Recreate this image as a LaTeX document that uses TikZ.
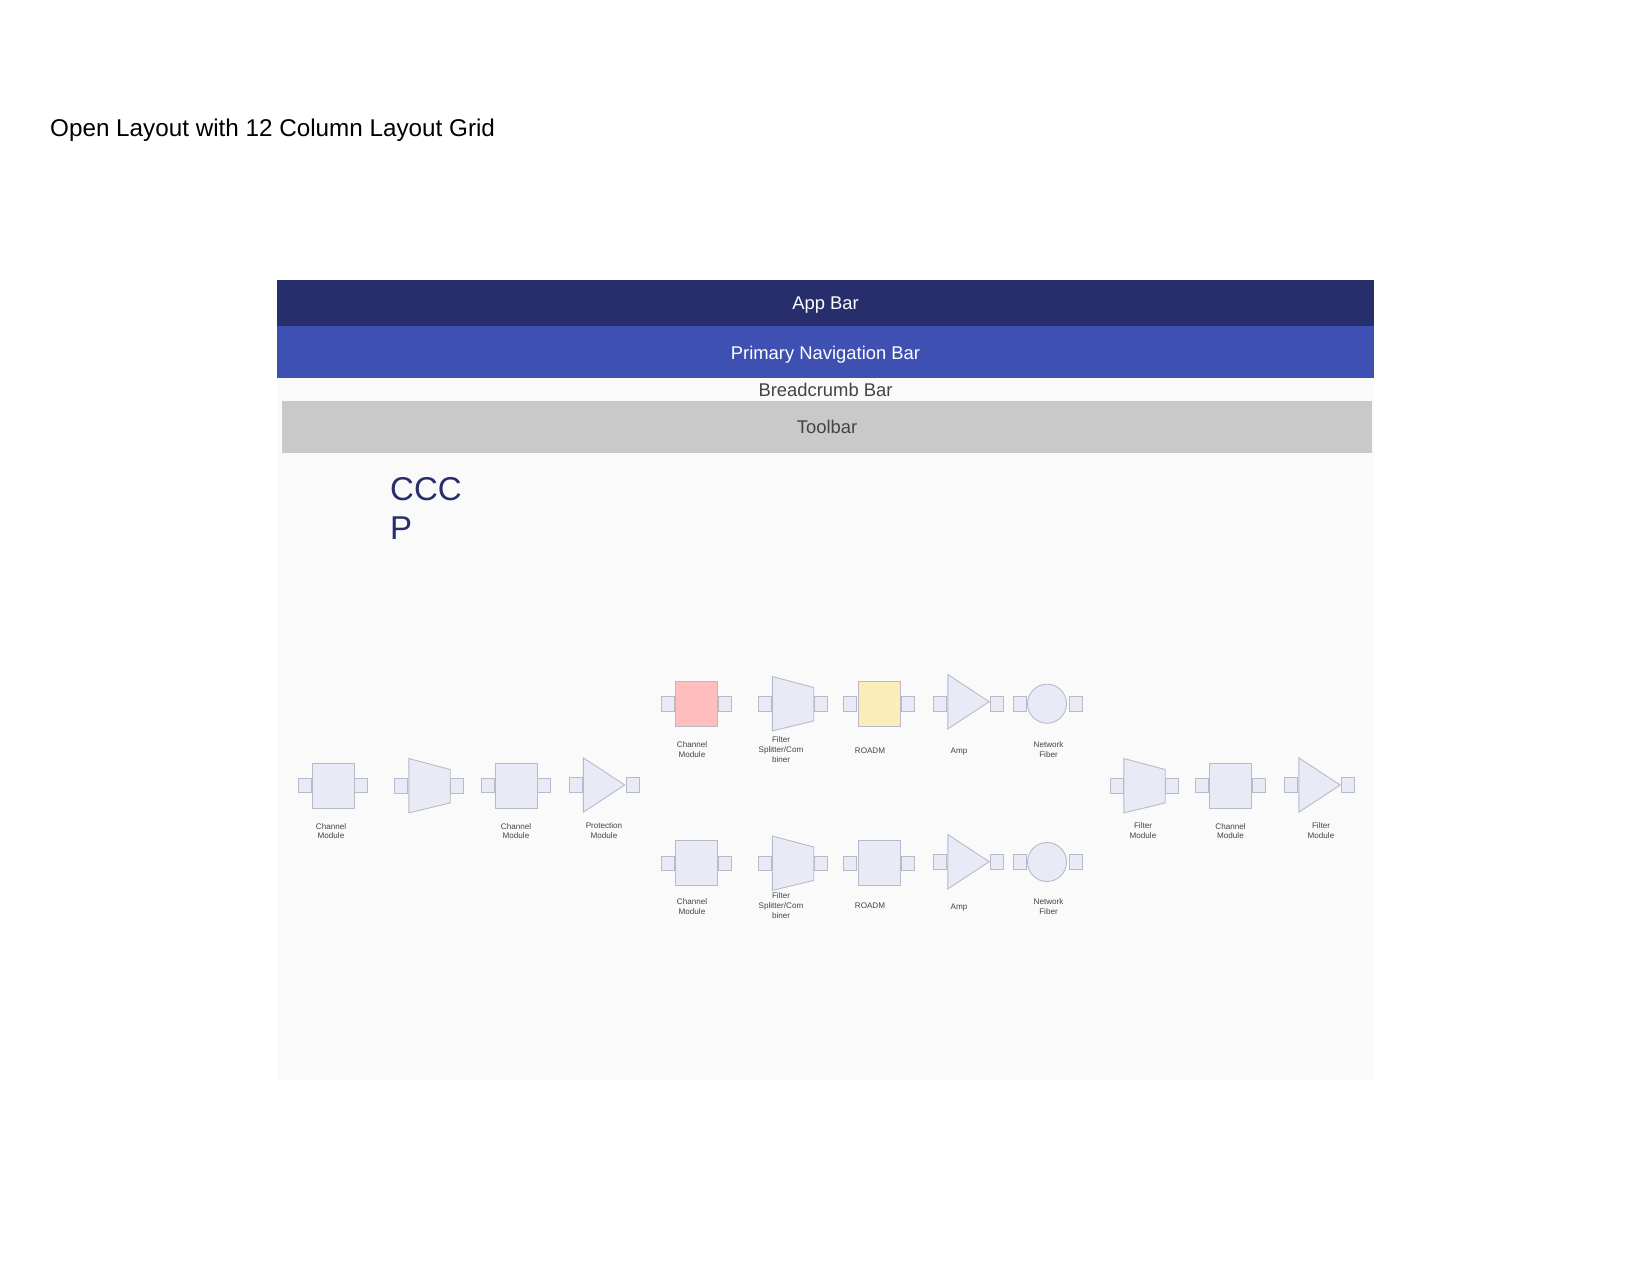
\documentclass[tikz,border=0pt]{standalone}
\usepackage{fontspec}
\setmainfont{Liberation Sans}
\usetikzlibrary{positioning}
\definecolor{appblue}{HTML}{262F6C}
\definecolor{navblue}{HTML}{3F50B3}
\definecolor{toolgrey}{HTML}{C9C9C9}
\definecolor{panelgrey}{HTML}{FAFAFA}
\definecolor{modfill}{HTML}{E8EAF6}
\definecolor{modline}{HTML}{B8BAC8}
\definecolor{alarmpink}{HTML}{FFBDBD}
\definecolor{warnyellow}{HTML}{FBEDB8}
\definecolor{labelgrey}{HTML}{444444}
\tikzset{
  bar/.style={inner sep=0pt, minimum width=1097pt, font=\fontsize{18.4}{22}\selectfont},
  modshape/.style={draw=modline, fill=modfill, line width=0.9pt},
  modbox/.style={modshape, inner sep=0pt, minimum width=42pt, minimum height=45pt},
  modslot/.style={inner sep=0pt, minimum width=41pt, minimum height=54pt},
  modfiber/.style={modshape, inner sep=0pt, circle, minimum size=39pt},
  port/.style={draw=modline, fill=modfill, line width=0.7pt, inner sep=0pt, minimum width=13pt, minimum height=14.5pt},
  lbl/.style={inner sep=0pt, align=center, text=labelgrey, font=\fontsize{8.1}{9.8}\selectfont}
}
\newcommand{\trapbody}[1]{\draw[modshape] (#1.north west) -- ([yshift=-11pt]#1.north east) -- ([yshift=10pt]#1.south east) -- (#1.south west) -- cycle;}
\newcommand{\ampbody}[1]{\draw[modshape] (#1.north west) -- (#1.east) -- (#1.south west) -- cycle;}
\begin{document}
\begin{tikzpicture}[x=1pt, y=-1pt]
  \useasboundingbox (0,0) rectangle (1650,1275);
  \node[anchor=west, inner sep=0pt, font=\fontsize{24.25}{28}\selectfont] (title) at (50,130) {Open Layout with 12 Column Layout Grid};
  \node[bar, fill=panelgrey, minimum height=702pt] (panel) at (825.5,729) {};
  \node[bar, fill=appblue, text=white, minimum height=46pt, text depth=-3pt] (appbar) at (825.5,303) {App Bar};
  \node[bar, fill=navblue, text=white, minimum height=52pt, text depth=-2pt, below=0pt of appbar] (navbar) {Primary Navigation Bar};
  \node[lbl, font=\fontsize{18.4}{22}\selectfont] (crumb) at (825.5,390) {Breadcrumb Bar};
  \node[bar, fill=toolgrey, text=labelgrey, minimum width=1090pt, minimum height=52pt, text depth=-1pt] (toolbar) at (827,427) {Toolbar};
  \node[anchor=north west, inner sep=0pt, align=left, text=appblue, font=\fontsize{33}{39}\selectfont] (ccc) at (390,477) {CCC\\P};

  % middle line, left side
  \node[modbox] (chana) at (333,785.5) {};
  \node[port, left=0pt of chana] (chanal) {};
  \node[port, right=0pt of chana] (chanar) {};
  \node[lbl, below=14.5pt of chana, xshift=-2pt] (chanat) {Channel\\Module};
  \node[modslot] (trapa) at (429.5,785.7) {};
  \trapbody{trapa}
  \node[port, left=1.5pt of trapa] (trapal) {};
  \node[port, right=0pt of trapa] (trapar) {};
  \node[modbox] (chanb) at (516,785.5) {};
  \node[port, left=0pt of chanb] (chanbl) {};
  \node[port, right=0pt of chanb] (chanbr) {};
  \node[lbl, below=14.5pt of chanb] (chanbt) {Channel\\Module};
  \node[modslot] (prot) at (604,785) {};
  \ampbody{prot}
  \node[port, left=0.5pt of prot] (protl) {};
  \node[port, right=1pt of prot] (protr) {};
  \node[lbl, below=10.5pt of prot] (prott) {Protection\\Module};

  % upper row
  \node[modbox, fill=alarmpink] (chanc) at (696.5,703.7) {};
  \node[port, left=0pt of chanc] (chancl) {};
  \node[port, right=0pt of chanc] (chancr) {};
  \node[lbl, below=14.5pt of chanc, xshift=-4.5pt] (chanct) {Channel\\Module};
  \node[modslot] (trapc) at (793,703.7) {};
  \trapbody{trapc}
  \node[port, left=1pt of trapc] (trapcl) {};
  \node[port, right=0pt of trapc] (trapcr) {};
  \node[lbl, below=6pt of trapc, xshift=-12pt] (trapct) {Filter\\Splitter/Com\\biner};
  \node[modbox, fill=warnyellow] (roadc) at (879.5,703.7) {};
  \node[port, left=1.5pt of roadc] (roadcl) {};
  \node[port, right=0pt of roadc] (roadcr) {};
  \node[lbl, below=20.5pt of roadc, xshift=-9.5pt] (roadct) {ROADM};
  \node[modslot] (ampc) at (968.5,701.7) {};
  \ampbody{ampc}
  \node[port, left=1.5pt of ampc, yshift=-2pt] (ampcl) {};
  \node[port, right=1pt of ampc, yshift=-2pt] (ampcr) {};
  \node[lbl, below=18.5pt of ampc, xshift=-9.5pt] (ampct) {Amp};
  \node[modfiber] (fibc) at (1047,703.7) {};
  \node[port, left=0.5pt of fibc] (fibcl) {};
  \node[port, right=2.5pt of fibc] (fibcr) {};
  \node[lbl, below=17.5pt of fibc, xshift=1.5pt] (fibct) {Network\\Fiber};

  % lower row
  \node[modbox] (chand) at (696.5,863.2) {};
  \node[port, left=0pt of chand] (chandl) {};
  \node[port, right=0pt of chand] (chandr) {};
  \node[lbl, below=12.5pt of chand, xshift=-4.5pt] (chandt) {Channel\\Module};
  \node[modslot] (trapd) at (793,863.2) {};
  \trapbody{trapd}
  \node[port, left=1pt of trapd] (trapdl) {};
  \node[port, right=0pt of trapd] (trapdr) {};
  \node[lbl, below=2.5pt of trapd, xshift=-12pt] (trapdt) {Filter\\Splitter/Com\\biner};
  \node[modbox] (roadd) at (879.5,863.2) {};
  \node[port, left=1.5pt of roadd] (roaddl) {};
  \node[port, right=0pt of roadd] (roaddr) {};
  \node[lbl, below=16.5pt of roadd, xshift=-9.5pt] (roaddt) {ROADM};
  \node[modslot] (ampd) at (968.5,861.7) {};
  \ampbody{ampd}
  \node[port, left=1.5pt of ampd] (ampdl) {};
  \node[port, right=1pt of ampd] (ampdr) {};
  \node[lbl, below=14.5pt of ampd, xshift=-9.5pt] (ampdt) {Amp};
  \node[modfiber] (fibd) at (1047,862) {};
  \node[port, left=0.5pt of fibd] (fibdl) {};
  \node[port, right=2.5pt of fibd] (fibdr) {};
  \node[lbl, below=16.5pt of fibd, xshift=1.5pt] (fibdt) {Network\\Fiber};

  % middle line, right side
  \node[modslot] (trape) at (1144.5,785.7) {};
  \trapbody{trape}
  \node[port, left=0.5pt of trape] (trapel) {};
  \node[port, right=0pt of trape] (traper) {};
  \node[lbl, below=10pt of trape, xshift=-1.5pt] (trapet) {Filter\\Module};
  \node[modbox] (chane) at (1230.5,785.5) {};
  \node[port, left=0pt of chane] (chanel) {};
  \node[port, right=0pt of chane] (chaner) {};
  \node[lbl, below=14.5pt of chane] (chanet) {Channel\\Module};
  \node[modslot] (filtf) at (1319.5,785) {};
  \ampbody{filtf}
  \node[port, left=1pt of filtf] (filtfl) {};
  \node[port, right=1pt of filtf] (filtfr) {};
  \node[lbl, below=10.5pt of filtf, xshift=1.5pt] (filtft) {Filter\\Module};
\end{tikzpicture}
\end{document}
